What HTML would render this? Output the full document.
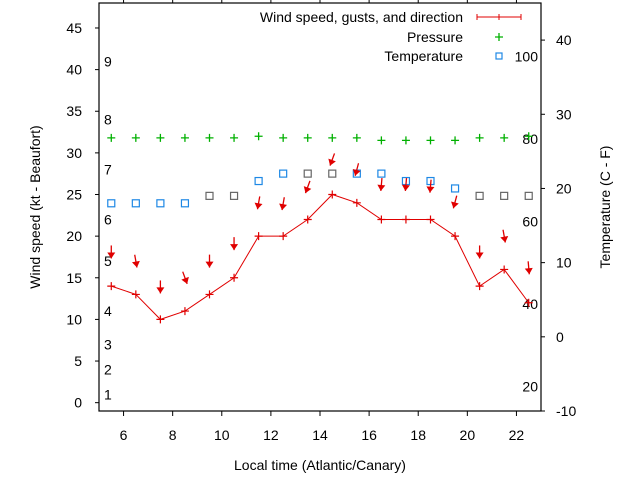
<!DOCTYPE html>
<html><head><meta charset="utf-8"><style>
body{margin:0;background:#fff;}
svg text{font-family:"Liberation Sans",sans-serif;font-size:14px;fill:#000;}
</style></head><body>
<svg id="chart" width="640" height="480" xmlns="http://www.w3.org/2000/svg"></svg>
<script>
const hours = [5.5,6.5,7.5,8.5,9.5,10.5,11.5,12.5,13.5,14.5,15.5,16.5,17.5,18.5,19.5,20.5,21.5,22.5];
const windSpeed = [14,13,10,11,13,15,20,20,22,25,24,22,22,22,20,14,16,12];
const gustSpeed = [18.1,17.0,13.9,15.0,17.0,19.1,24.0,23.9,25.9,29.2,28.0,26.2,26.2,26.0,24.1,18.1,20.0,16.2];
const windDir = [0,350,0,340,0,0,10,10,20,20,15,5,5,5,15,0,350,355];
const pressure = [31.8,31.8,31.8,31.8,31.8,31.8,32.0,31.8,31.8,31.8,31.8,31.5,31.5,31.5,31.5,31.8,31.8,32.0];
const temperature = [18,18,18,18,19,19,21,22,22,22,22,22,21,21,20,19,19,19];
const tempFresh = [1,1,1,1,0,0,1,1,0,0,1,1,1,1,1,0,0,0];
const xTicks = [6,8,10,12,14,16,18,20,22];
const yTicks = [0,5,10,15,20,25,30,35,40,45];
const y2Ticks = [-10,0,10,20,30,40];
const beaufortLabels = ["1","2","3","4","5","6","7","8","9"];
const beaufortKt = [1,4,7,11,17,22,28,34,41];
const fahrenheitLabels = [20,40,60,80,100];

const L=99,R=541,T=3,B=411;
const X=v=>L+(v-5)/(23-5)*(R-L);
const Y=v=>B-(v+1)/(48+1)*(B-T);
const Y2=v=>B-(v+10)/(45+10)*(B-T);
const svg=document.getElementById('chart');
const NS='http://www.w3.org/2000/svg';
function mk(tag,attrs,parent){const e=document.createElementNS(NS,tag);for(const k in attrs)e.setAttribute(k,attrs[k]);(parent||svg).appendChild(e);return e;}
function txt(s,x,y,anchor){const t=mk('text',{x:x,y:y,'text-anchor':anchor||'start'});t.textContent=s;return t;}

// frame
let f=mk('rect',{x:L,y:T,width:R-L,height:B-T,fill:'none',stroke:'#000','stroke-width':1.2});



xTicks.forEach(v=>{
  mk('line',{x1:X(v),x2:X(v),y1:B,y2:B+5,stroke:'#000'});
  mk('line',{x1:X(v),x2:X(v),y1:T,y2:T-4,stroke:'#000'});
  const t=txt(String(v),X(v),440,'middle');
  
  
});
yTicks.forEach(v=>{
  mk('line',{x1:L-4,x2:L,y1:Y(v),y2:Y(v),stroke:'#000'});
  const t=txt(String(v),82,Y(v)+5,'end');
  
  
});
y2Ticks.forEach(v=>{
  mk('line',{x1:R,x2:R+4,y1:Y2(v),y2:Y2(v),stroke:'#000'});
  const t=txt(String(v),556,Y2(v)+5,'start');
  
  
});
beaufortLabels.forEach((s,i)=>{
  const t=txt(s,104,Y(beaufortKt[i])+5,'start');
  
  
});
fahrenheitLabels.forEach(v=>{
  const c=(v-32)*5/9;
  const t=txt(String(v),538,Y2(c)+5,'end');
  
  
});

// axis titles
let at=txt('Local time (Atlantic/Canary)',320,470,'middle');


at=mk('text',{x:0,y:0,'text-anchor':'middle',transform:'translate(40,207) rotate(-90)'});at.textContent='Wind speed (kt - Beaufort)';


at=mk('text',{x:0,y:0,'text-anchor':'middle',transform:'translate(610,207) rotate(-90)'});at.textContent='Temperature (C - F)';



// pressure
pressure.forEach((v,i)=>{
  const g=mk('path',{d:`M${X(hours[i])-4},${Y(v)}h8M${X(hours[i])},${Y(v)-4}v8`,stroke:'#00b000','stroke-width':1.3});
  
  
});
// temperature
temperature.forEach((v,i)=>{
  const r=mk('rect',{x:X(hours[i])-3.5,y:Y2(v)-3.5,width:7,height:7,fill:'none',stroke:tempFresh[i]?'#1e88e5':'#666','stroke-width':1.2});
  
  
});
// wind line
const pl=mk('polyline',{points:hours.map((h,i)=>X(h)+','+Y(windSpeed[i])).join(' '),fill:'none',stroke:'#e00000','stroke-width':1});


windSpeed.forEach((v,i)=>{
  const m=mk('path',{d:`M${X(hours[i])-4},${Y(v)}h8M${X(hours[i])},${Y(v)-4}v8`,stroke:'#e00000','stroke-width':1.2});
  
  
});
// arrows
gustSpeed.forEach((v,i)=>{
  const a=windDir[i]*Math.PI/180, len=13;
  const dx=-Math.sin(a)*len, dy=Math.cos(a)*len;
  const cx=X(hours[i]), cy=Y(v);
  const x1=cx-dx/2,y1=cy-dy/2,x2=cx+dx/2,y2=cy+dy/2;
  const ux=dx/len,uy=dy/len;
  const hx=x2-ux*6,hy=y2-uy*6;
  const g=mk('g',{});
  
  
  mk('line',{x1:x1,y1:y1,x2:x2,y2:y2,stroke:'#e00000','stroke-width':1.3},g);
  mk('polygon',{points:`${x2},${y2} ${hx-uy*4},${hy+ux*4} ${hx+uy*4},${hy-ux*4}`,fill:'#e00000'},g);
});

// legend
const lg=mk('g',{});


[['Wind speed, gusts, and direction',22],['Pressure',42],['Temperature',61]].forEach(([s,y])=>{
  const t=mk('text',{x:463,y:y,'text-anchor':'end'},lg);t.textContent=s;
  
  
});
mk('path',{d:'M477,17h44M477,14v6M521,14v6M499,14v6',stroke:'#e00000','stroke-width':1},lg);
mk('path',{d:'M495,37h8M499,33v8',stroke:'#00b000','stroke-width':1.3},lg);
mk('rect',{x:496,y:53,width:6,height:6,fill:'none',stroke:'#1e88e5','stroke-width':1.2},lg);
</script>
</body></html>
